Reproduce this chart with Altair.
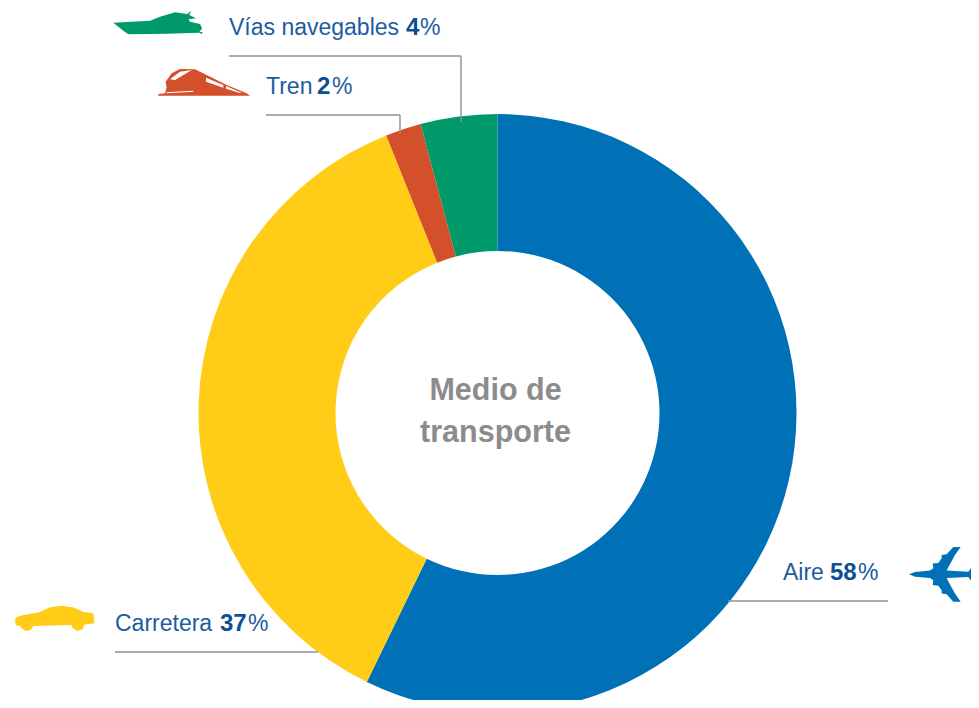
import altair as alt
import pandas as pd

# ---- data ----
modes = ["Aire", "Carretera", "Tren", "Vías navegables"]
printed = ["58", "37", "2", "4"]
arc_shares = [57.2, 36.73, 1.93, 4.14]  # as drawn in the picture
colors = ["#0071B7", "#FFCD17", "#D4502B", "#009A6A"]

label_x = [783, 115, 266, 229]
label_y = [580, 631, 94, 35]
number_x = [830, 220, 317, 406]
percent_x = [858, 248, 332, 420]

rule_x = [728, 115, 266, 229, 400, 461]
rule_x2 = [888, 318, 400, 461, 400, 461]
rule_y = [601, 652, 115, 56, 115, 56]
rule_y2 = [601, 652, 115, 56, 134, 122]

center_lines = ["Medio de", "transporte"]
center_y = [399.5, 441.5]

BLUE = "#1C5C9E"
BOLD = "#0B4F96"
GREY = "#8F8F8F"

def path(points, cx, cy, half):
    return "M" + "L".join(f"{(x-cx)/half:.3f},{(y-cy)/half:.3f}" for x, y in points) + "Z"

boat = [(40,68),(150,62),(180,50),(225,37),(262,42),(272,33),(268,45),(288,55),(265,58),(270,65),
        (300,72),(306,85),(298,95),(308,97),(305,102),(298,98),(200,101),(85,103),(70,92)]
train = [(175,287),(450,287),(440,280),(380,255),(320,225),(285,208),(240,207),(215,220),(197,245),
         (200,262),(195,280),(175,282)]
train_w = [[(210,238),(240,215),(275,210),(250,225),(225,240)],
           [(318,233),(370,255),(370,263),(318,245)],
           [(378,258),(425,278),(420,279),(378,266)],
           [(200,277),(280,272),(280,275),(200,280)]]
plane_up = [(57,118),(75,111),(120,107),(130,100),(128,86),(145,84),(155,70),(155,60),(170,58),(190,36),
            (212,36),(195,60),(176,95),(170,107),(235,110),(250,90),(267,86),(262,118)]
plane = plane_up + [(x, 236-y) for x, y in plane_up[-2:0:-1]]
car = [(45,95),(48,82),(70,75),(115,68),(150,52),(185,47),(220,53),(250,66),(280,70),(283,100),
       (252,104),(248,118),(232,123),(218,115),(214,105),(100,108),(92,120),(78,123),(65,115),
       (60,108),(48,106)]

ICON_BOAT = path(boat, 173, 68, 134)
ICON_TRAIN = path(train, 312, 247, 138)
ICON_TRAIN_W = "".join(path(p, 312, 247, 138) for p in train_w)
ICON_PLANE = path(plane, 162, 118, 105)
ICON_CAR = path(car, 164, 85, 119)

icons = [
    (ICON_PLANE, 944, 574.3, 70, colors[0]),
    (ICON_CAR, 54.7, 618.3, 79.4, colors[1]),
    (ICON_TRAIN, 204, 82.3, 92, colors[2]),
    (ICON_TRAIN_W, 204, 82.3, 92, "#FFFFFF"),
    (ICON_BOAT, 157.7, 22.7, 89.4, colors[3]),
]

xs = alt.Scale(domain=[8, 971])
ys = alt.Scale(domain=[700, 8])
X = lambda f: alt.X(f, type="quantitative", scale=xs, axis=None)
Y = lambda f: alt.Y(f, type="quantitative", scale=ys, axis=None)

df = pd.DataFrame({"mode": modes, "share": arc_shares, "order": range(4), "num": printed,
                   "lx": label_x, "ly": label_y, "nx": number_x, "px": percent_x})
df["lab"] = df["mode"]
df["pct"] = "%"

arc = alt.Chart(df).mark_arc(outerRadius=299, innerRadius=162).encode(
    theta=alt.Theta("share:Q", stack=True),
    order=alt.Order("order:Q"),
    color=alt.Color("mode:N", scale=alt.Scale(domain=modes, range=colors), legend=None),
    x=alt.value(489.5), y=alt.value(405),
)

rules = alt.Chart(pd.DataFrame({"x": rule_x, "x2": rule_x2, "y": rule_y, "y2": rule_y2})).mark_rule(
    color=GREY, strokeWidth=1.4).encode(x=X("x"), x2="x2", y=Y("y"), y2="y2")

FONT = "Liberation Sans"
def text(field, xf, color, weight, size=23):
    return alt.Chart(df).mark_text(font=FONT, fontSize=size, align="left", baseline="alphabetic",
                                   color=color, fontWeight=weight).encode(
        x=X(xf), y=Y("ly"), text=f"{field}:N")

labels = text("lab", "lx", BLUE, "normal")
numbers = text("num", "nx", BOLD, "bold", 24)
percents = text("pct", "px", BLUE, "normal")

center = alt.Chart(pd.DataFrame({"t": center_lines, "x": [495.5, 495.5], "y": center_y})).mark_text(
    font=FONT, fontSize=30.5, fontWeight="bold", color="#8C8C8C", align="center", baseline="alphabetic"
).encode(x=X("x"), y=Y("y"), text="t:N")

icon_layers = [
    alt.Chart(pd.DataFrame({"x": [x], "y": [y]})).mark_point(
        shape=shape, size=w * w, filled=True, color=c, opacity=1, strokeWidth=0, clip=False
    ).encode(x=X("x"), y=Y("y"))
    for shape, x, y, w, c in icons
]

chart = alt.layer(arc, rules, labels, numbers, percents, center, *icon_layers).properties(
    width=963, height=692, padding=0, autosize=alt.AutoSizeParams(type="none"),
    background="#FFFFFF",
).configure_view(stroke=None)

chart.save("out.html", embed_options={"renderer": "svg", "actions": False})
